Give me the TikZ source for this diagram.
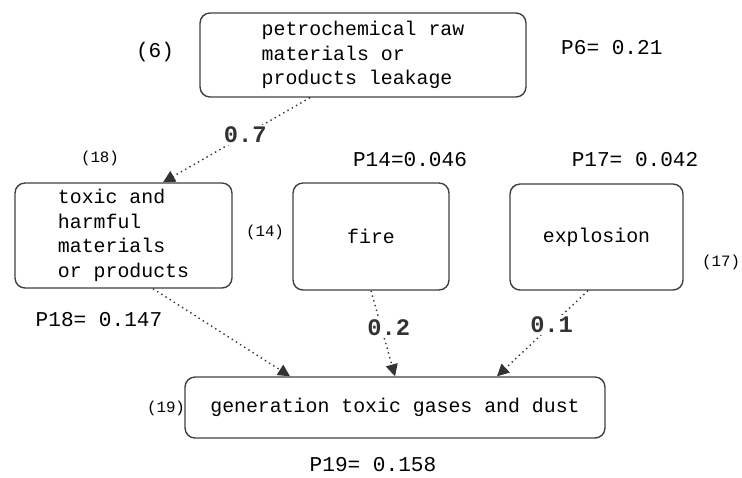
\documentclass[tikz,border=0pt]{standalone}
\usepackage{fontspec}
\setmainfont{Liberation Mono}
\usetikzlibrary{arrows.meta}

\begin{document}
\begin{tikzpicture}[x=0.02cm,y=-0.02cm,>={Triangle[length=0.24cm,width=0.24cm]},
    event/.style={shape=rectangle,rounded corners=0.2cm,draw=black!75,line width=0.8pt,
                  align=left,font=\fontsize{11.3}{14}\selectfont},
    num/.style={font=\fontsize{12}{14}\selectfont},
    tag/.style={font=\fontsize{9}{11}\selectfont,inner sep=0pt},
    prob/.style={font=\fontsize{13.5}{15}\bfseries\selectfont,fill=white,inner sep=1pt},
    link/.style={->,dotted,line width=0.8pt,black!80}]
    \useasboundingbox (0,0) rectangle (742,477);
    % events
    \node[event,minimum width=6.52cm,minimum height=1.68cm] (6) at (363,55)
        {petrochemical raw\\materials or\\products leakage};
    \node[event,minimum width=4.34cm,minimum height=2.1cm] (18) at (123.5,235.5)
        {toxic and\\harmful\\materials\\or products};
    \node[event,minimum width=3.12cm,minimum height=2.14cm] (14) at (371,236.5) {fire};
    \node[event,minimum width=3.46cm,minimum height=2.12cm] (17) at (596.5,237) {explosion};
    \node[event,minimum width=8.4cm,minimum height=1.22cm] (19) at (395,407.5)
        {generation toxic gases and dust};
    % numbers and probabilities
    \node[num] (n6) at (155,52) {(6)};
    \node[num,anchor=west] (p6) at (555,48) {P6= 0.21};
    \node[tag] (n18) at (100,158) {(18)};
    \node[num] (p14) at (410,160) {P14=0.046};
    \node[num] (p17) at (635,160) {P17= 0.042};
    \node[tag] (n14) at (265,232) {(14)};
    \node[tag] (n17) at (721,262) {(17)};
    \node[num] (p18) at (99,320) {P18= 0.147};
    \node[tag] (n19) at (166,408) {(19)};
    \node[num] (p19) at (373,465) {P19= 0.158};
    % links
    \path[link] ([xshift=-1.06cm]6.south) edge node[prob,pos=0.44] {0.7} ([xshift=0.79cm]18.north);
    \path[link] ([xshift=0.59cm]18.south) edge ([xshift=-2.1cm]19.north);
    \path[link] (14.south) edge node[prob,pos=0.43,xshift=0.15cm] {0.2} (19.north);
    \path[link] ([xshift=-0.17cm]17.south) edge node[prob,pos=0.4] {0.1} ([xshift=2.04cm]19.north);
\end{tikzpicture}
\end{document}
